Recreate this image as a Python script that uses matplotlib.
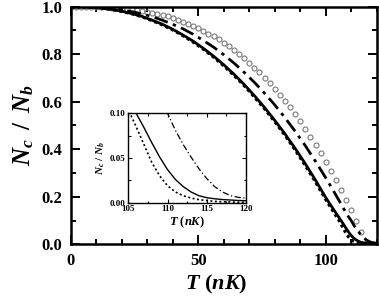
import matplotlib
matplotlib.use("Agg")
import matplotlib.pyplot as plt
from matplotlib.ticker import MultipleLocator, FormatStrFormatter

plt.rcParams['font.family'] = ['Liberation Serif', 'DejaVu Serif']
plt.rcParams['font.weight'] = 'bold'
plt.rcParams['mathtext.fontset'] = 'custom'
plt.rcParams['mathtext.it'] = 'Liberation Serif:italic:bold'
plt.rcParams['mathtext.rm'] = 'Liberation Serif:bold'
plt.rcParams['mathtext.bf'] = 'Liberation Serif:bold'

# ---- data ----
T_circ = [0, 2, 4, 6, 8, 10, 12, 14, 16, 18, 20, 22, 24, 26, 28, 30, 32, 34, 36, 38,
          40, 42, 44, 46, 48, 50, 52, 54, 56, 58, 60, 62, 64, 66, 68, 70, 72, 74, 76, 78,
          80, 82, 84, 86, 88, 90, 92, 94, 96, 98, 100, 102, 104, 106, 108, 110, 112, 114, 116]
N_circ = [1.000, 1.000, 1.000, 1.000, 0.9995, 0.999, 0.998, 0.998, 0.996, 0.995,
          0.993, 0.991, 0.989, 0.986, 0.983, 0.979, 0.975, 0.970, 0.965, 0.959,
          0.952, 0.945, 0.937, 0.929, 0.920, 0.910, 0.899, 0.887, 0.875, 0.862,
          0.848, 0.833, 0.817, 0.801, 0.783, 0.764, 0.744, 0.724, 0.702, 0.679,
          0.655, 0.630, 0.603, 0.576, 0.547, 0.517, 0.486, 0.453, 0.420, 0.384,
          0.348, 0.310, 0.271, 0.230, 0.188, 0.145, 0.100, 0.053, 0.005]

T_dd = [0, 4, 8, 12, 16, 20, 24, 28, 32, 36, 40, 44, 48, 52, 56, 60, 64, 68, 72, 76,
        80, 84, 88, 92, 96, 100, 102, 104, 106, 108, 109, 110, 111, 112, 113, 114,
        115, 116, 117, 118, 119, 120]
N_dd = [1.000, 1.000, 0.999, 0.996, 0.992, 0.987, 0.979, 0.970, 0.958, 0.943,
        0.926, 0.907, 0.884, 0.858, 0.830, 0.798, 0.763, 0.724, 0.682, 0.636,
        0.587, 0.533, 0.476, 0.415, 0.349, 0.280, 0.244, 0.207, 0.170, 0.132,
        0.115, 0.100, 0.081, 0.065, 0.051, 0.038, 0.027, 0.018, 0.012, 0.008,
        0.006, 0.005]

T_solid = [0, 4, 8, 12, 16, 20, 24, 28, 32, 36, 40, 44, 48, 52, 56, 60, 64, 68, 72, 76,
           80, 84, 88, 92, 96, 100, 102, 104, 105, 106, 107, 108, 109, 110, 111, 112,
           113, 114, 115, 116, 117, 118, 119, 120]
N_solid = [1.000, 1.000, 0.998, 0.994, 0.989, 0.981, 0.971, 0.959, 0.943, 0.926,
           0.905, 0.881, 0.855, 0.825, 0.792, 0.756, 0.716, 0.673, 0.626, 0.576,
           0.522, 0.465, 0.404, 0.339, 0.270, 0.197, 0.164, 0.132, 0.116, 0.100,
           0.084, 0.067, 0.051, 0.037, 0.026, 0.018, 0.012, 0.0078, 0.0056, 0.0044,
           0.0035, 0.003, 0.0025, 0.0022]

T_dot = [0, 4, 8, 12, 16, 20, 24, 28, 32, 36, 40, 44, 48, 52, 56, 60, 64, 68, 72, 76,
         80, 84, 88, 92, 96, 100, 102, 104, 105, 106, 107, 108, 109, 110, 111, 112,
         113, 114, 115, 116, 117, 118, 119, 120]
N_dot = [1.000, 1.000, 0.998, 0.994, 0.988, 0.980, 0.970, 0.957, 0.941, 0.923,
         0.902, 0.878, 0.851, 0.821, 0.788, 0.751, 0.711, 0.668, 0.620, 0.570,
         0.516, 0.459, 0.397, 0.331, 0.262, 0.188, 0.154, 0.120, 0.104, 0.085,
         0.065, 0.045, 0.030, 0.019, 0.012, 0.0078, 0.0052, 0.0034, 0.0024, 0.0015,
         0.0010, 0.0008, 0.0005, 0.0004]

x_ticks = [0, 50, 100]
y_ticks = [0.0, 0.2, 0.4, 0.6, 0.8, 1.0]
inset_x_ticks = [105, 110, 115, 120]
inset_y_ticks = [0.00, 0.05, 0.10]

W, H = 379, 300
fig = plt.figure(figsize=(W / 100, H / 100), dpi=100)

ax = fig.add_axes([70.7 / W, 1 - 244.3 / H, (376.7 - 70.7) / W, (244.3 - 6.7) / H])
ax.plot(T_circ, N_circ, linestyle='none', marker='o', markersize=3.6,
        markerfacecolor='none', markeredgecolor='#7a7a7a', markeredgewidth=0.8)
ax.plot(T_dd, N_dd, color='black', linestyle=(0, (5, 2, 1.2, 2)), linewidth=2.0)
ax.plot(T_solid, N_solid, color='black', linestyle='-', linewidth=2.0)
ax.plot(T_dot, N_dot, color='black', linestyle=(0, (1, 1)), linewidth=2.2)

ax.set_xlim(0, 120)
ax.set_ylim(0, 1.0)
ax.set_xticks(x_ticks)
ax.set_yticks(y_ticks)
ax.xaxis.set_minor_locator(MultipleLocator(10))
ax.yaxis.set_minor_locator(MultipleLocator(0.1))
ax.yaxis.set_major_formatter(FormatStrFormatter('%.1f'))
ax.tick_params(which='both', direction='in', top=True, right=True, width=1.4)
ax.tick_params(which='major', length=6.5, labelsize=12, pad=6)
ax.tick_params(which='minor', length=3.5)
for s in ax.spines.values():
    s.set_linewidth(1.8)
for lab in ax.get_xticklabels() + ax.get_yticklabels():
    lab.set_fontweight('bold')
ax.set_xlabel(r'$T\ (nK)$', fontsize=16)
ax.xaxis.set_label_coords(0.475, -0.12)
ax.set_ylabel(r'$N_c\ \,/\ \,N_b$', fontsize=18)
ax.yaxis.set_label_coords(-0.115, 0.5)

# ---- inset ----
axi = fig.add_axes([128.3 / W, 1 - 202.7 / H, (246 - 128.3) / W, (202.7 - 113.3) / H])
axi.plot(T_solid, N_solid, color='black', linestyle='-', linewidth=1.0)
axi.plot(T_dot, N_dot, color='black', linestyle=(0, (1.2, 1.5)), linewidth=1.2)
axi.plot(T_dd, N_dd, color='black', linestyle=(0, (5, 2, 1, 2)), linewidth=0.9)
axi.set_xlim(105, 120)
axi.set_ylim(0, 0.10)
axi.set_xticks(inset_x_ticks)
axi.set_yticks(inset_y_ticks)
axi.xaxis.set_minor_locator(MultipleLocator(2.5))
axi.yaxis.set_minor_locator(MultipleLocator(0.025))
axi.yaxis.set_major_formatter(FormatStrFormatter('%.2f'))
axi.tick_params(which='both', direction='in', top=True, right=True, width=0.8)
axi.tick_params(which='major', length=3, labelsize=6.5, pad=2)
axi.tick_params(which='minor', length=1.8)
for s in axi.spines.values():
    s.set_linewidth(1.0)
for lab in axi.get_xticklabels() + axi.get_yticklabels():
    lab.set_fontweight('bold')
axi.set_xlabel(r'$T\ (nK)$', fontsize=9, labelpad=1)
axi.set_ylabel(r'$N_c\ /\ N_b$', fontsize=8, labelpad=2)

fig.savefig('out.png', dpi=100)
